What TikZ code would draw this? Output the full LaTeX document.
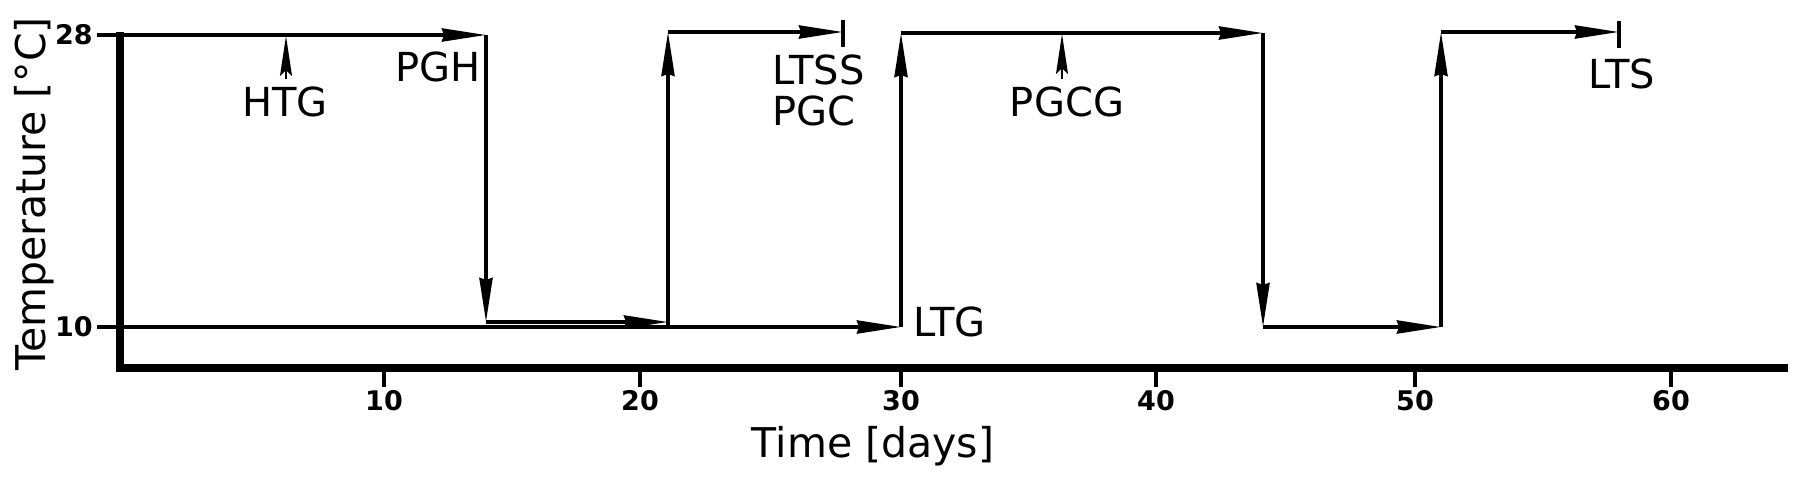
\documentclass[tikz,border=0pt]{standalone}
\usepackage{fontspec}
\setmainfont{DejaVu Sans}
\usetikzlibrary{arrows.meta}
\begin{document}
\begin{tikzpicture}[x=0.5pt,y=-0.5pt,
  flow/.style={line width=1.75pt,-{Stealth[length=22pt,width=6.5pt,inset=1pt]}},
  plain/.style={line width=1.75pt},
  axisline/.style={line width=4.4pt, line join=miter},
  tickline/.style={line width=1.7pt},
  ticklabel/.style={font=\fontsize{13.5}{15}\selectfont\bfseries, inner sep=0pt},
  lbl/.style={font=\fontsize{20}{24}\selectfont, inner sep=0pt},
  title/.style={font=\fontsize{20.5}{24}\selectfont, inner sep=0pt},
  pointer/.style={line width=1.2pt,-{Stealth[length=20pt,width=6pt,inset=3pt]}}
]
\useasboundingbox (0,0) rectangle (1803,480);

% axes
\coordinate (ytop) at (120,32);
\coordinate (orig) at (120,368);
\coordinate (xend) at (1788,368);
\draw[axisline] (ytop) -- (orig) -- (xend);

% y ticks
\coordinate (y28a) at (97,35);  \coordinate (y28b) at (120,35);
\coordinate (y10a) at (97,327); \coordinate (y10b) at (120,327);
\draw[tickline] (y28a) -- (y28b);
\draw[tickline] (y10a) -- (y10b);
\node[ticklabel, anchor=east] (l28) at (93,35) {28};
\node[ticklabel, anchor=east] (l10) at (93,327) {10};

% x ticks
\foreach \d/\x in {10/384,20/640,30/901,40/1156,50/1415,60/1671}{
  \coordinate (t\d a) at (\x,368);
  \coordinate (t\d b) at (\x,387);
  \draw[tickline] (t\d a) -- (t\d b);
  \node[ticklabel, anchor=center] (tl\d) at (\x,401) {\d};
}

% axis titles
\node[title, anchor=base] (xtitle) at (873,457) {Time [days]};
\node[title, anchor=base, rotate=90] (ytitle) at (45,194) {Temperature [°C]};

% path points
\coordinate (a0) at (120,35);
\coordinate (pgh) at (486,35);
\coordinate (pghb) at (486,322);
\coordinate (s21) at (668,322);
\coordinate (b0) at (120,327);
\coordinate (b21) at (668,327);
\coordinate (u21) at (668,32);
\coordinate (ltss) at (843,32);
\coordinate (ltssA) at (843,20);
\coordinate (ltssB) at (843,47);
\coordinate (b30) at (901,327);
\coordinate (u30) at (901,33);
\coordinate (u44) at (1263,33);
\coordinate (b44) at (1263,327);
\coordinate (b51) at (1441,327);
\coordinate (u51) at (1441,32);
\coordinate (lts) at (1619,32);
\coordinate (ltsA) at (1619,21);
\coordinate (ltsB) at (1619,48);

% flows
\draw[flow] (a0) -- (pgh);
\draw[flow] (pgh) -- (pghb);
\draw[flow] (pghb) -- (s21);
\draw[flow] (b0) -- (b30);
\draw[flow] (b21) -- (u21);
\draw[flow] (u21) -- (ltss);
\draw[plain] (ltssA) -- (ltssB);
\draw[flow] (b30) -- (u30);
\draw[flow] (u30) -- (u44);
\draw[flow] (u44) -- (b44);
\draw[flow] (b44) -- (b51);
\draw[flow] (b51) -- (u51);
\draw[flow] (u51) -- (lts);
\draw[plain] (ltsA) -- (ltsB);

% small pointers
\coordinate (htgA) at (286,79);
\coordinate (htgB) at (286,36);
\draw[pointer] (htgA) -- (htgB);
\coordinate (pgcgA) at (1062,79);
\coordinate (pgcgB) at (1062,34);
\draw[pointer] (pgcgA) -- (pgcgB);

% labels
\node[lbl, anchor=base] (HTG) at (285,117) {HTG};
\node[lbl, anchor=base east] (PGH) at (481,82) {PGH};
\node[lbl, anchor=base west] (LTSS) at (772,85) {LTSS};
\node[lbl, anchor=base west] (PGC) at (772,126) {PGC};
\node[lbl, anchor=base] (PGCG) at (1067,117) {PGCG};
\node[lbl, anchor=base west] (LTG) at (913,336) {LTG};
\node[lbl, anchor=base west] (LTS) at (1588,89) {LTS};
\end{tikzpicture}
\end{document}
